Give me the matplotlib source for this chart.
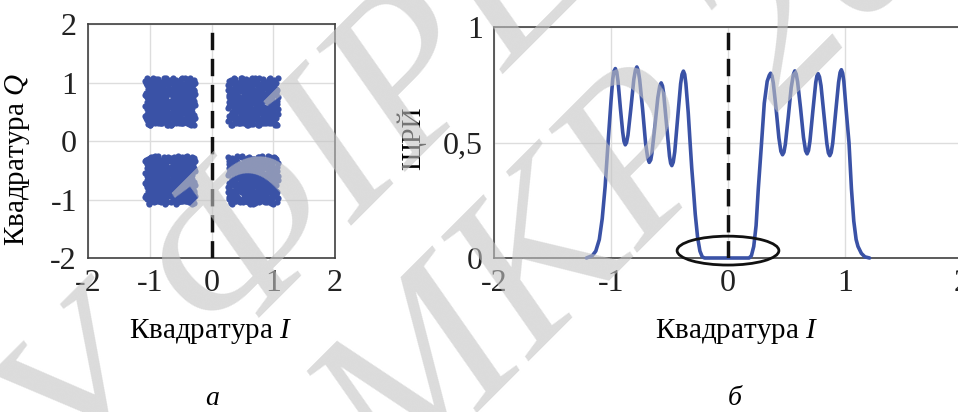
import numpy as np
import matplotlib
matplotlib.use("Agg")
from matplotlib import pyplot as plt
from matplotlib.patches import Ellipse

plt.rcParams['font.family'] = ['Liberation Serif', 'DejaVu Serif']
plt.rcParams['mathtext.fontset'] = 'custom'
plt.rcParams['mathtext.rm'] = 'Liberation Serif'
plt.rcParams['mathtext.it'] = 'Liberation Serif:italic'

BLUE = '#3a52a6'

# constellation levels on each quadrature
i_levels = [-0.97, -0.77, -0.57, -0.37, 0.37, 0.57, 0.77, 0.97]
q_levels = [-0.97, -0.77, -0.57, -0.37, 0.37, 0.57, 0.77, 0.97]

# spread of received symbols around each ideal point
jit_dx = [0.00, 0.05, -0.04, 0.08, -0.07, 0.02, -0.02, 0.06, -0.09, 0.10, -0.05, 0.03,
          -0.01, 0.07, -0.06, 0.04, -0.10, 0.01, -0.03, 0.09, -0.08, 0.05, -0.04, 0.00]
jit_dy = [0.03, -0.06, 0.07, 0.00, -0.02, 0.09, -0.08, 0.04, 0.05, -0.03, -0.09, 0.01,
          0.10, -0.05, 0.06, -0.07, 0.02, -0.04, 0.08, 0.03, -0.01, 0.11, -0.10, -0.06]

# density of the I component
pdf_x = [-1.21, -1.16, -1.13, -1.10, -1.075, -1.05, -1.025, -1.00, -0.985, -0.975, -0.963,
         -0.951, -0.94, -0.92, -0.90, -0.889, -0.878, -0.867, -0.855, -0.83, -0.805, -0.791, -0.779,
         -0.767, -0.755, -0.73, -0.705, -0.686, -0.673, -0.66, -0.65, -0.625, -0.60, -0.583, -0.571,
         -0.56, -0.55, -0.525, -0.50, -0.49, -0.48, -0.468, -0.455, -0.43, -0.405, -0.393, -0.381,
         -0.37, -0.36, -0.34, -0.324, -0.31, -0.296, -0.28, -0.26, -0.24, -0.22, -0.20,
         0.0, 0.18, 0.20, 0.22, 0.24, 0.259, 0.273, 0.287, 0.31, 0.335, 0.352, 0.364,
         0.376, 0.387, 0.41, 0.435, 0.452, 0.466, 0.478, 0.49, 0.515, 0.54, 0.559, 0.571,
         0.583, 0.595, 0.62, 0.645, 0.663, 0.676, 0.688, 0.70, 0.725, 0.75, 0.760, 0.770,
         0.782, 0.795, 0.82, 0.845, 0.858, 0.870, 0.882, 0.895, 0.92, 0.945, 0.958, 0.969,
         0.98, 0.99, 1.01, 1.034, 1.055, 1.075, 1.095, 1.111, 1.14, 1.17, 1.21]
pdf_y = [0.0, 0.01, 0.03, 0.08, 0.17, 0.31, 0.50, 0.68, 0.775, 0.808, 0.82,
         0.806, 0.765, 0.65, 0.545, 0.505, 0.49, 0.50, 0.532, 0.648, 0.773, 0.814, 0.827,
         0.812, 0.772, 0.645, 0.50, 0.432, 0.414, 0.425, 0.455, 0.57, 0.693, 0.745, 0.758,
         0.745, 0.713, 0.576, 0.441, 0.41, 0.40, 0.415, 0.46, 0.608, 0.754, 0.795, 0.809,
         0.795, 0.755, 0.63, 0.50, 0.39, 0.30, 0.19, 0.09, 0.03, 0.005, 0.0,
         0.0, 0.0, 0.01, 0.05, 0.14, 0.30, 0.40, 0.50, 0.67, 0.765, 0.79, 0.80,
         0.788, 0.758, 0.651, 0.52, 0.462, 0.447, 0.458, 0.492, 0.61, 0.737, 0.795, 0.81,
         0.796, 0.762, 0.649, 0.523, 0.464, 0.451, 0.465, 0.504, 0.635, 0.76, 0.788, 0.798,
         0.784, 0.746, 0.62, 0.495, 0.455, 0.443, 0.456, 0.497, 0.63, 0.76, 0.803, 0.815,
         0.80, 0.765, 0.64, 0.50, 0.30, 0.16, 0.08, 0.05, 0.02, 0.005, 0.0]

ticks_iq = [-2, -1, 0, 1, 2]
ticks_iq_labels = ['-2', '-1', '0', '1', '2']
ticks_pdf = [0, 0.5, 1]
ticks_pdf_labels = ['0', '0,5', '1']

fig = plt.figure(figsize=(9.58, 4.12), dpi=100)


def style(ax):
    for s in ax.spines.values():
        s.set_color('#404040')
        s.set_linewidth(1.2)
    ax.tick_params(length=0, labelsize=23, pad=8, colors='#222222')
    ax.grid(True, color='#dddddd', linewidth=1.0)
    ax.set_axisbelow(True)


# --- constellation ---
ax1 = fig.add_axes([88 / 958, 1 - 258 / 412, 247 / 958, 234 / 412])
pts_i, pts_q = [], []
n = len(jit_dx)
k = 0
for qi in q_levels:
    for ii in i_levels:
        for j in range(n):
            pts_i.append(ii + jit_dx[j])
            pts_q.append(qi + jit_dy[(j + 5 * k) % n])
        k += 1
ax1.scatter(pts_i, pts_q, s=20, color=BLUE, linewidths=0, zorder=3)
ax1.axvline(0, color='#111111', lw=2.5, ls=(0, (5, 2.5)), zorder=4)
ax1.set_xlim(-2, 2)
ax1.set_ylim(-2, 2)
ax1.set_xticks(ticks_iq)
ax1.set_yticks(ticks_iq)
ax1.set_xticklabels(ticks_iq_labels)
ax1.set_yticklabels(ticks_iq_labels)
style(ax1)
ax1.set_xlabel('Квадратура $I$', fontsize=21)
ax1.set_ylabel('Квадратура $Q$', fontsize=21)
ax1.xaxis.set_label_coords(0.498, -0.25)
ax1.yaxis.set_label_coords(-0.225, 0.42)

# --- density of I ---
ax2 = fig.add_axes([494 / 958, 1 - 258 / 412, 468 / 958, 231 / 412])
ax2.plot(pdf_x, pdf_y, color=BLUE, lw=2.6, zorder=3, clip_on=False,
         solid_joinstyle='round', solid_capstyle='round')
ax2.axvline(0, color='#111111', lw=2.5, ls=(0, (5, 2.5)), zorder=4)
ax2.add_patch(Ellipse((0.0, 0.032), 0.87, 0.125, fill=False, edgecolor='#111111',
                      lw=2.0, zorder=5, clip_on=False))
ax2.set_xlim(-2, 2)
ax2.set_ylim(0, 1)
ax2.set_xticks(ticks_iq)
ax2.set_xticklabels(ticks_iq_labels)
ax2.set_yticks(ticks_pdf)
ax2.set_yticklabels(ticks_pdf_labels)
style(ax2)
ax2.set_xlabel('Квадратура $I$', fontsize=21)
ax2.set_ylabel('ЩРЙ', fontsize=20)
ax2.xaxis.set_label_coords(0.519, -0.255)
ax2.yaxis.set_label_coords(-0.145, 0.52)

fig.text(212 / 958, 7 / 412, 'а', fontsize=20, style='italic', ha='center', va='baseline')
fig.text(735 / 958, 7 / 412, 'б', fontsize=20, style='italic', ha='center', va='baseline')

# watermark
wm = dict(fontsize=165, style='italic', color='#c4c4c4', alpha=0.6,
          ha='center', va='center', rotation=45, zorder=10)
fig.text(300 / 958, 1 - 200 / 412, 'У ФІРЕ', **wm)
fig.text(630 / 958, 1 - 185 / 412, 'МКР 20', **wm)

fig.savefig('out.png', dpi=100)
